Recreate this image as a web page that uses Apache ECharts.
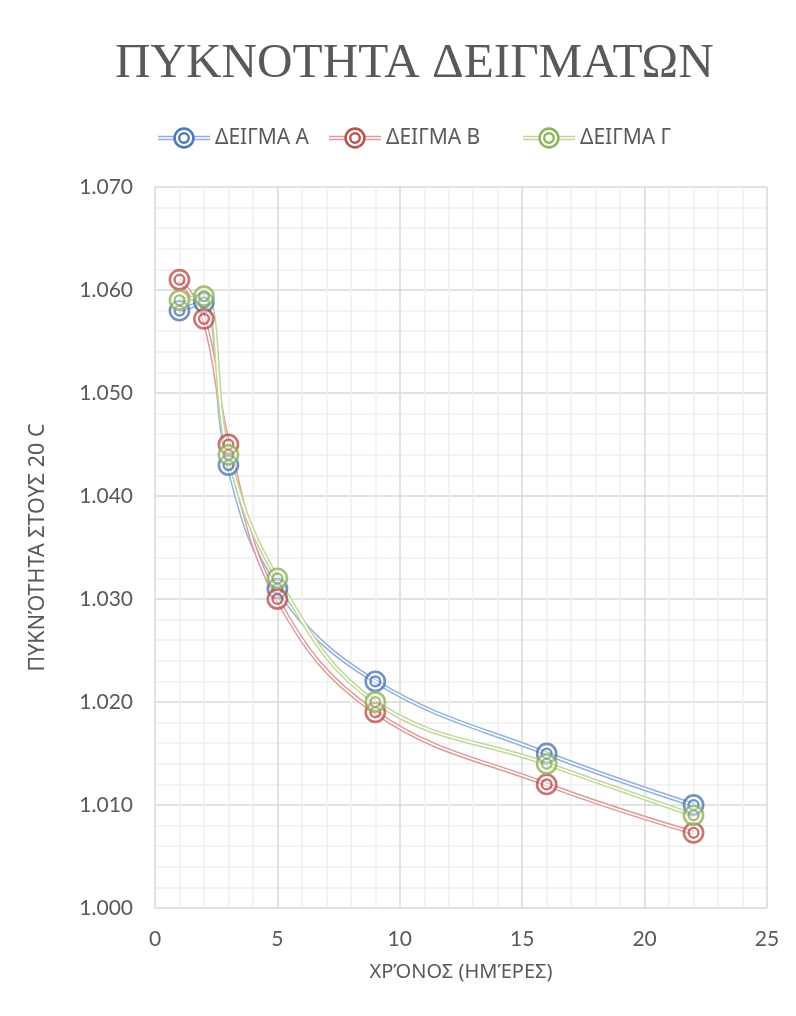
<!DOCTYPE html>
<html>
<head>
<meta charset="utf-8">
<title>ΠΥΚΝΟΤΗΤΑ ΔΕΙΓΜΑΤΩΝ</title>
<script src="https://cdn.jsdelivr.net/npm/echarts@6/dist/echarts.min.js"></script>
<style>
  html, body { margin: 0; padding: 0; background: #ffffff; }
  #chart { width: 796px; height: 1016px; }
</style>
</head>
<body>
<div id="chart"></div>
<script>
// Days of measurement
const days = [1, 2, 3, 5, 9, 16, 22];

// Density at 20 C for each sample
const sampleA = [1.058, 1.0588, 1.043, 1.031, 1.022, 1.015, 1.010];
const sampleB = [1.061, 1.0572, 1.045, 1.030, 1.019, 1.012, 1.0073];
const sampleG = [1.059, 1.0594, 1.044, 1.032, 1.020, 1.014, 1.009];

const seriesNames = ['ΔΕΙΓΜΑ Α', 'ΔΕΙΓΜΑ Β', 'ΔΕΙΓΜΑ Γ'];
const seriesValues = [sampleA, sampleB, sampleG];

// Axis ticks
const xTicks = { min: 0, max: 25, step: 5 };
const yTicks = { min: 1.000, max: 1.070, step: 0.010 };

const markColors = ['#5079B5', '#BD5350', '#90B45A'];
const lineColors = ['#93B1DE', '#DE9B99', '#C1D79A'];
const textColor = '#595959';

function svgUri(svg) {
  return 'image://data:image/svg+xml;charset=utf-8,' + encodeURIComponent(svg);
}

// Double-ring marker
function ringMarker(color) {
  return svgUri(
    '<svg xmlns="http://www.w3.org/2000/svg" width="24" height="24" viewBox="0 0 24 24">' +
    '<circle cx="12" cy="12" r="9.6" fill="#ffffff" fill-opacity="0.55" stroke="' + color + '" stroke-width="2.6"/>' +
    '<circle cx="12" cy="12" r="4.9" fill="none" stroke="' + color + '" stroke-width="2.4"/>' +
    '</svg>');
}

// Legend icon: double line with the ring marker in the middle
function legendIcon(lineColor, markColor) {
  return svgUri(
    '<svg xmlns="http://www.w3.org/2000/svg" width="52" height="24" viewBox="0 0 52 24">' +
    '<line x1="0" y1="10.4" x2="52" y2="10.4" stroke="' + lineColor + '" stroke-width="1.5"/>' +
    '<line x1="0" y1="13.6" x2="52" y2="13.6" stroke="' + lineColor + '" stroke-width="1.5"/>' +
    '<circle cx="26" cy="12" r="9.4" fill="#ffffff" stroke="' + markColor + '" stroke-width="2.6"/>' +
    '<circle cx="26" cy="12" r="4.8" fill="none" stroke="' + markColor + '" stroke-width="2.4"/>' +
    '</svg>');
}

function pairs(values) {
  return days.map((d, i) => [d, values[i]]);
}

const series = [];
// Double lines: a wide coloured stroke split by a thin white stroke
seriesValues.forEach((vals, k) => {
  series.push({
    name: seriesNames[k], type: 'line', data: pairs(vals), smooth: 0.4,
    showSymbol: false, symbol: 'none', z: 2,
    lineStyle: { color: lineColors[k], width: 4.6 },
    itemStyle: { color: lineColors[k] },
    emphasis: { disabled: true }, silent: true
  });
  series.push({
    name: seriesNames[k], type: 'line', data: pairs(vals), smooth: 0.4,
    showSymbol: false, symbol: 'none', z: 2,
    lineStyle: { color: '#ffffff', width: 1.6 },
    emphasis: { disabled: true }, silent: true
  });
});
// Markers on top
seriesValues.forEach((vals, k) => {
  series.push({
    name: seriesNames[k], type: 'scatter', data: pairs(vals), z: 3,
    symbol: ringMarker(markColors[k]), symbolSize: 24,
    emphasis: { disabled: true }
  });
});

const legendLefts = [153, 324, 518];
const legends = seriesNames.map((n, k) => ({
  data: [{ name: n, icon: legendIcon(lineColors[k], markColors[k]) }],
  left: legendLefts[k], top: 121,
  itemWidth: 52, itemHeight: 24,
  selectedMode: false,
  textStyle: { fontFamily: '"Noto Sans", sans-serif', fontSize: 21, color: textColor }
}));

const chart = echarts.init(document.getElementById('chart'), null, { renderer: 'canvas' });
chart.setOption({
  backgroundColor: '#ffffff',
  animation: false,
  title: {
    text: 'ΠΥΚΝΟΤΗΤΑ ΔΕΙΓΜΑΤΩΝ',
    left: 115, top: 40, padding: 0,
    textStyle: { fontFamily: '"Liberation Serif", serif', fontSize: 49.2, fontWeight: 'normal', color: textColor }
  },
  legend: legends,
  grid: { left: 155, right: 29, top: 187, bottom: 108, containLabel: false },
  xAxis: {
    type: 'value', min: xTicks.min, max: xTicks.max, interval: xTicks.step,
    name: 'ΧΡΌΝΟΣ (ΗΜΈΡΕΣ)', nameLocation: 'middle', nameGap: 54,
    nameTextStyle: { fontFamily: '"Noto Sans", sans-serif', fontSize: 20, color: textColor },
    axisLine: { show: false }, axisTick: { show: false },
    axisLabel: { margin: 21, fontFamily: 'Lato, "Noto Sans", sans-serif', fontSize: 21, color: textColor },
    splitLine: { show: true, lineStyle: { color: '#D9D9D9', width: 1.5 } },
    minorTick: { show: false, splitNumber: 5 },
    minorSplitLine: { show: true, lineStyle: { color: '#EFEFEF', width: 1.5 } }
  },
  yAxis: {
    type: 'value', min: yTicks.min, max: yTicks.max, interval: yTicks.step,
    name: 'ΠΥΚΝΌΤΗΤΑ ΣΤΟΥΣ 20 C', nameLocation: 'middle', nameGap: 106,
    nameTextStyle: { fontFamily: '"Noto Sans", sans-serif', fontSize: 21.5, color: textColor },
    axisLine: { show: false }, axisTick: { show: false },
    axisLabel: {
      margin: 22, fontFamily: 'Lato, "Noto Sans", sans-serif', fontSize: 21, color: textColor,
      formatter: v => v.toFixed(3)
    },
    splitLine: { show: true, lineStyle: { color: '#D9D9D9', width: 1.5 } },
    minorTick: { show: false, splitNumber: 5 },
    minorSplitLine: { show: true, lineStyle: { color: '#EFEFEF', width: 1.5 } }
  },
  series: series
});
</script>
</body>
</html>
